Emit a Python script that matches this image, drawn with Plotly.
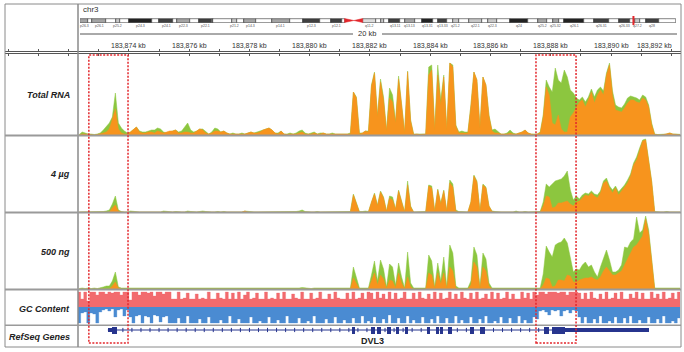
import numpy as np
import plotly.graph_objects as go

W, H = 684, 352

# ---------------- data ----------------
VIEW_KB = [183872.31, 183892.29]
GRID_START_KB = 183872.35
GRID_STEP_KB = 0.1

RULER_TICKS_KB = [183874, 183876, 183878, 183880, 183882, 183884, 183886, 183888, 183890, 183892]
RULER_LABELS = ["183,874 kb", "183,876 kb", "183,878 kb", "183,880 kb", "183,882 kb",
                "183,884 kb", "183,886 kb", "183,888 kb", "183,890 kb", "183,892 kb"]

CHROM = "chr3"
SCALE_LABEL = "20 kb"

TOTAL_GREEN = [
    0.5, 3, 2, 1, 1, 0.5, 1, 2, 5, 9,
    12, 18, 42, 12, 7, 4, 2, 3, 6, 8,
    4, 3, 3, 4, 5, 5, 7, 6, 3, 2,
    3, 4, 5, 3, 4, 8, 12, 5, 3, 4,
    6, 6, 3, 1, 3, 7, 6, 3, 4, 2,
    1, 2, 1, 1, 2, 1, 2, 3, 2, 3,
    4, 5, 6, 7, 5, 2, 2, 4, 1, 1,
    2, 1, 2, 4, 5, 2, 1, 2, 3, 1,
    2, 2, 1, 1, 2, 1, 1, 1, 1, 1,
    2, 43, 38, 2, 2, 4, 4, 50, 63, 20,
    56, 38, 5, 47, 40, 14, 59, 32, 3, 64,
    15, 1, 1, 1, 0.5, 1, 68, 70, 6, 70,
    35, 60, 6, 72, 70, 10, 3, 4, 3, 3,
    30, 63, 55, 8, 58, 50, 20, 5, 6, 3,
    1, 1, 2, 5, 2, 1, 2, 3, 5, 2,
    1, 1, 1, 3, 20, 55, 48, 43, 67, 55,
    52, 65, 58, 45, 42, 37, 35, 38, 33, 38,
    46, 38, 45, 48, 44, 62, 72, 44, 30, 28,
    27, 31, 37, 39, 38, 37, 35, 40, 38, 30,
    12, 1, 0.5, 0.5, 1, 1, 2, 1, 1, 0.5,
    0.5]
TOTAL_ORANGE = [
    0, 1, 1, 0.5, 0.5, 0, 0.5, 1, 2, 3,
    6, 16, 26, 6, 2, 1, 1, 3, 6, 8,
    3, 2, 2, 3, 3, 2, 4, 3, 2, 3,
    4, 4, 5, 2, 2, 3, 3, 2, 2, 4,
    6, 5, 2, 1, 2, 4, 4, 3, 4, 2,
    1, 1, 1, 1, 1, 1, 2, 3, 2, 2,
    3, 5, 6, 7, 5, 2, 1, 4, 1, 0.5,
    1, 1, 1, 2, 3, 1, 1, 1, 2, 1,
    1, 2, 1, 1, 1, 0.5, 1, 1, 1, 0.5,
    1, 43, 37, 1, 2, 4, 3, 49, 62, 18,
    53, 35, 4, 37, 33, 12, 56, 30, 2, 63,
    14, 0.5, 1, 0.5, 0.5, 1, 60, 65, 5, 60,
    30, 58, 5, 72, 68, 9, 2, 2, 2, 2,
    29, 63, 55, 7, 58, 50, 19, 4, 2, 2,
    1, 1, 1, 2, 1, 1, 2, 3, 5, 2,
    1, 0.5, 1, 2, 18, 48, 40, 12, 10, 20,
    6, 3, 3, 18, 22, 28, 33, 35, 28, 35,
    43, 32, 40, 45, 40, 60, 70, 40, 25, 24,
    23, 27, 32, 35, 35, 33, 32, 37, 35, 28,
    10, 0.5, 0, 0, 0.5, 1, 2, 1, 0.5, 0,
    0]

UG4_GREEN = [
    0, 0, 0, 0.5, 0, 0, 0, 0.5, 0.5, 1,
    2, 8, 16, 2, 0.5, 0, 0, 1, 0.5, 0,
    0, 0, 0, 0, 0, 0.5, 0, 0, 1, 0.5,
    0, 0, 0.5, 0, 0, 0, 1, 0.5, 0, 0,
    0.5, 1, 0.5, 0, 0, 0, 0.5, 0, 0.5, 0,
    0, 0, 0, 0.5, 0, 1, 0.5, 0, 0, 0,
    0, 0.5, 0, 0.5, 0.5, 0, 0, 0, 0, 0,
    0, 0, 0.5, 1, 2, 0.5, 0, 0, 0, 0.5,
    0, 0, 0, 0, 0.5, 0, 0, 0, 0, 0,
    0.5, 18, 9, 0.5, 0.5, 1, 0.5, 11, 19, 7,
    21, 15, 1, 16, 15, 3, 22, 11, 0.5, 31,
    6, 0, 0, 0, 0, 0.5, 27, 26, 1, 23,
    9, 22, 1, 32, 28, 2, 0.5, 0.5, 0, 0,
    10, 37, 31, 1, 28, 25, 6, 1, 0.5, 0,
    0, 0, 0, 0.5, 0, 1, 0, 0, 0.5, 0,
    0, 0, 0, 0.5, 10, 28, 25, 28, 31, 32,
    33, 36, 41, 22, 12, 16, 13, 17, 19, 18,
    21, 18, 17, 21, 31, 34, 26, 22, 26, 20,
    23, 27, 32, 38, 49, 55, 64, 72, 73, 53,
    31, 0.5, 0, 0, 0, 0.5, 0, 0, 0, 0,
    0]
UG4_ORANGE = [
    0, 0, 0, 0, 0, 0, 0, 0, 0, 0,
    0, 4, 7, 1, 0, 0, 0, 0, 0, 0,
    0, 0, 0, 0, 0, 0, 0, 0, 0, 0,
    0, 0, 0, 0, 0, 0, 0.5, 0, 0, 0,
    0, 0, 0, 0, 0, 0, 0, 0, 0, 0,
    0, 0, 0, 0, 0, 1, 0, 0, 0, 0,
    0, 0, 0, 0, 0, 0, 0, 0, 0, 0,
    0, 0, 0, 0, 0, 0, 0, 0, 0, 0,
    0, 0, 0, 0, 0, 0, 0, 0, 0, 0,
    0, 17, 8, 0, 0, 0, 0, 10, 18, 6,
    20, 14, 0.5, 14, 12, 3, 21, 10, 0, 27,
    5, 0, 0, 0, 0, 0, 26, 24, 0.5, 22,
    8, 21, 0.5, 29, 25, 1, 0, 0, 0, 0,
    10, 36, 30, 0.5, 27, 24, 6, 0.5, 0, 0,
    0, 0, 0, 0, 0, 0, 0.5, 0, 0, 0,
    0, 0, 0, 0, 6, 16, 15, 4, 5, 9,
    9, 10, 11, 8, 6, 10, 11, 14, 17, 16,
    19, 16, 14, 19, 29, 31, 24, 19, 24, 17,
    21, 24, 29, 36, 47, 52, 62, 71, 72, 52,
    30, 0, 0, 0, 0, 0, 0, 0, 0, 0,
    0]

NG500_GREEN = [
    0.5, 1, 0.5, 1, 0.5, 1, 0.5, 1, 2, 3,
    3, 8, 17, 2, 1, 1, 1, 0.5, 1, 1,
    1, 0.5, 1, 1, 0.5, 1, 1, 1, 0.5, 1,
    1, 1, 0.5, 1, 1, 1, 0.5, 1, 1, 1,
    1, 1, 1, 0.5, 1, 1, 1, 0.5, 1, 1,
    0.5, 1, 1, 1, 1, 1, 0.5, 0.5, 1, 1,
    1, 1, 1, 1, 0.5, 1, 1, 1, 1, 1,
    1, 1, 1, 1, 1.5, 1, 1, 0.5, 1, 1,
    1, 1, 0.5, 1, 1, 1, 1, 1, 0.5, 1,
    1, 22, 10, 1, 1, 1, 1, 14, 28, 8,
    29, 20, 2, 25, 22, 4, 26, 12, 1, 37,
    6, 1, 1, 0.5, 1, 1, 34, 28, 2, 26,
    8, 32, 2, 44, 36, 3, 1, 1, 1, 1,
    8, 42, 34, 2, 36, 30, 6, 1, 1, 1,
    1, 1, 1, 1, 1, 1, 1, 1, 1, 1,
    1, 1, 1, 1, 15, 43, 37, 32, 44, 46,
    47, 51, 46, 30, 17, 20, 19, 24, 27, 22,
    24, 17, 12, 22, 30, 39, 29, 17, 17, 19,
    24, 42, 41, 47, 50, 72, 56, 59, 73, 59,
    30, 1, 1, 1, 0.5, 1, 1, 1, 0.5, 1,
    1]
NG500_ORANGE = [
    0, 0, 0, 0, 0, 0, 0, 0, 0, 0,
    0, 3, 7, 1, 0, 0, 0, 0, 0, 0,
    0, 0, 0, 0, 0, 0, 0, 0, 0, 0,
    0, 0, 0, 0, 0, 0, 0, 0, 0, 0,
    0, 0, 0, 0, 0, 0, 0, 0, 0, 0,
    0, 0, 0, 0, 0, 0, 0, 0, 0, 0,
    0, 0, 0, 0, 0, 0, 0, 0, 0, 0,
    0, 0, 0, 0, 0, 0, 0, 0, 0, 0,
    0, 0, 0, 0, 0, 0, 0, 0, 0, 0,
    0, 11, 5, 0, 0, 0, 0, 8, 16, 4,
    14, 10, 0.5, 9, 8, 1, 16, 6, 0, 12,
    2, 0, 0, 0, 0, 0, 16, 14, 0.5, 16,
    5, 16, 0.5, 22, 18, 1, 0, 0, 0, 0,
    4, 27, 22, 0.5, 22, 18, 3, 0, 0, 0,
    0, 0, 0, 0, 0, 0, 0, 0, 0, 0,
    0, 0, 0, 0, 4, 11, 10, 2, 3, 9,
    9, 8, 14, 13, 7, 7, 9, 10, 11, 11,
    12, 10, 9, 12, 18, 22, 18, 14, 14, 16,
    18, 24, 30, 37, 42, 44, 48, 53, 70, 55,
    28, 0, 0, 0, 0, 0, 0, 0, 0, 0,
    0]

GC_HIGH = [
    15, 8, 15, 6, 15, 15, 12, 15, 15, 13, 15, 14, 15, 15, 12, 15, 15, 7, 15, 15,
    12, 15, 15, 14, 15, 11, 15, 15, 13, 15, 15,
    8, 8, 15, 8, 9, 14, 8, 8, 13, 8, 9, 8, 15, 8, 8, 14, 9, 8, 15, 8,
    14, 8, 15, 8, 12, 15, 8, 9, 14, 8,
    8, 15, 8, 9, 8, 14, 8, 15, 8, 8, 13, 9, 8, 15, 8, 8, 14, 8, 9, 15,
    8, 8, 13, 8, 15, 9, 8, 8, 14, 8,
    15, 8, 9, 14, 8, 15, 14, 8, 15, 9, 13, 8, 15, 8, 14, 8, 9, 15, 8, 8,
    14, 8, 15, 9, 8, 13, 8, 15, 8, 14,
    8, 9, 15, 8, 13, 8, 15, 9, 8, 14, 8, 15, 8, 9, 13, 8, 15, 8, 14, 8,
    9, 15, 8, 13, 8, 8, 15, 9, 14, 8, 15, 12,
    15, 15, 13, 15, 15, 15, 14, 15, 15, 12, 15, 15, 15, 14,
    8, 14, 8, 15, 9, 8, 13, 8, 15, 8, 9, 14, 8, 15, 8, 8, 13, 9, 15, 8,
    14, 8, 8, 15, 9, 13, 8, 15, 8, 9, 14, 8, 15, 8]
GC_LOW = [
    16, 6, 5, 16, 6, 7, 16, 5,
    3, 2, 4, 2, 10, 3, 2, 9, 3,
    10, 16, 9, 8, 16, 9, 10, 16, 8, 9, 15, 10, 9, 16,
    16, 16, 11, 16, 16, 9, 16, 16, 16, 12, 16, 16, 10, 16, 16, 16, 13, 16, 16, 9,
    16, 16, 12, 16, 16, 16, 10, 16, 16, 14,
    16, 16, 10, 16, 16, 13, 16, 16, 9, 16, 16, 16, 11, 16, 16, 14, 16, 9, 16, 16,
    16, 12, 16, 16, 10, 16, 16, 13, 16, 16,
    11, 16, 16, 9, 16, 14, 16, 10, 16, 16, 12, 16, 8, 16, 16, 11, 16, 16, 9, 16,
    13, 16, 16, 10, 16, 16, 12, 16, 9, 16,
    16, 11, 16, 16, 9, 16, 13, 16, 16, 10, 16, 16, 12, 16, 9, 16, 16, 14, 16, 10,
    16, 16, 11, 16, 16, 9, 16, 13, 16, 16, 10, 12,
    4, 3, 5, 8, 3, 4, 3, 9, 4, 3, 6, 3, 4, 10,
    16, 10, 16, 16, 12, 16, 9, 16, 16, 14, 16, 10, 16, 16, 11, 16, 9, 16, 16, 13,
    16, 16, 10, 16, 16, 12, 16, 9, 16, 16, 14, 16, 11, 16]

GENE_NAME = "DVL3"
GENE_SPAN_KB = [183873.30, 183891.26]
GENE_LABEL_KB = 183882.1
EXON_START_KB = [183873.44, 183881.40, 183882.03, 183882.23, 183882.56, 183882.86, 183883.16,
                 183883.89, 183884.19, 183884.32, 183884.59, 183885.32, 183885.65,
                 183887.78, 183888.04]
EXON_END_KB = [183873.60, 183881.50, 183882.17, 183882.37, 183882.70, 183882.96, 183883.26,
               183883.99, 183884.29, 183884.42, 183884.72, 183885.45, 183885.82,
               183887.94, 183888.47]
UTR_START_KB = [183873.30, 183888.47]
UTR_END_KB = [183873.44, 183891.26]

HIGHLIGHT_START_KB = [183872.67, 183887.51]
HIGHLIGHT_END_KB = [183873.97, 183888.84]

CHR_LEN_MB = 198.022
CYTO_NAMES = ["p26.3", "p26.2", "p26.1", "p25.3", "p25.2", "p25.1", "p24.3", "p24.2", "p24.1", "p23",
              "p22.3", "p22.2", "p22.1", "p21.33", "p21.32", "p21.31", "p21.2", "p21.1", "p14.3", "p14.2",
              "p14.1", "p13", "p12.3", "p12.2", "p12.1", "p11.2", "p11.1", "q11.1", "q11.2", "q12.1",
              "q12.2", "q12.3", "q13.11", "q13.12", "q13.13", "q13.2", "q13.31", "q13.32", "q13.33", "q21.1",
              "q21.2", "q21.3", "q22.1", "q22.2", "q22.3", "q23", "q24", "q25.1", "q25.2", "q25.31",
              "q25.32", "q25.33", "q26.1", "q26.2", "q26.31", "q26.32", "q26.33", "q27.1", "q27.2", "q27.3",
              "q28", "q29"]
CYTO_START_MB = [0.0, 2.8, 4.0, 8.7, 11.8, 13.3, 16.4, 23.9, 26.4, 30.9,
                 32.1, 36.5, 39.4, 43.7, 44.1, 44.2, 50.6, 52.3, 54.4, 58.6,
                 63.7, 69.8, 74.2, 79.8, 83.5, 87.2, 87.9, 91.0, 93.9, 98.3,
                 100.0, 100.9, 102.8, 106.2, 107.9, 111.3, 113.5, 117.3, 119.0, 121.9,
                 123.8, 125.8, 129.2, 133.7, 135.7, 138.7, 142.8, 148.9, 152.1, 155.0,
                 157.0, 159.0, 160.7, 167.6, 170.9, 175.7, 179.0, 182.7, 184.5, 186.0,
                 187.9, 192.3]
CYTO_END_MB = CYTO_START_MB[1:] + [CHR_LEN_MB]
CYTO_STAIN = ["gpos50", "gneg", "gpos50", "gneg", "gpos25", "gneg", "gpos100", "gneg", "gpos75", "gneg",
              "gpos50", "gneg", "gpos75", "gneg", "gpos50", "gneg", "gpos25", "gneg", "gpos50", "gneg",
              "gpos50", "gneg", "gpos75", "gneg", "gpos75", "gneg", "acen", "acen", "gvar", "gneg",
              "gpos25", "gneg", "gpos75", "gneg", "gpos50", "gneg", "gpos100", "gneg", "gpos75", "gneg",
              "gpos25", "gneg", "gpos25", "gneg", "gpos25", "gneg", "gpos100", "gneg", "gpos50", "gneg",
              "gpos50", "gneg", "gpos100", "gneg", "gpos75", "gneg", "gpos75", "gneg", "gpos25", "gneg",
              "gpos75", "gneg"]

TRACK_LABELS = ["Total RNA", "4 µg", "500 ng", "GC Content", "RefSeq Genes"]

for arr in (TOTAL_GREEN, TOTAL_ORANGE, UG4_GREEN, UG4_ORANGE, NG500_GREEN, NG500_ORANGE, GC_HIGH, GC_LOW):
    assert len(arr) == 201, len(arr)

# ---------------- style ----------------
GREEN = "#8cc63f"
ORANGE = "#f7941d"
GCRED = "#f26b6e"
GCBLUE = "#4a8bd2"
NAVY = "#27358e"
BOXRED = "#e3262b"
SEP = "#9a9a9a"
FONT = "Liberation Sans, Arial, sans-serif"
STAIN_COLORS = {"gneg": "#ffffff", "gpos25": "#c8c8c8", "gpos50": "#a4a4a4",
                "gpos75": "#404040", "gpos100": "#222222", "gvar": "#dcdcdc"}


def pxx(p):
    return p / W


def pyy(p):
    return 1 - p / H


grid = GRID_START_KB + GRID_STEP_KB * np.arange(201)
gc_grid = grid - GRID_STEP_KB / 2

fig = go.Figure()


def add_cov(vals, color, yax):
    fig.add_trace(go.Scatter(x=grid, y=vals, mode="lines",
                             line=dict(color=color, width=0.5, shape="linear"),
                             fill="tozeroy", fillcolor=color,
                             xaxis="x", yaxis=yax, hoverinfo="skip", showlegend=False))


add_cov(TOTAL_GREEN, GREEN, "y")
add_cov(TOTAL_ORANGE, ORANGE, "y")
add_cov(UG4_GREEN, GREEN, "y2")
add_cov(UG4_ORANGE, ORANGE, "y2")
add_cov(NG500_GREEN, GREEN, "y3")
add_cov(NG500_ORANGE, ORANGE, "y3")

# GC content
fig.add_trace(go.Scatter(x=gc_grid, y=GC_HIGH, mode="lines", line=dict(color=GCRED, width=0.3, shape="hv"),
                         fill="tozeroy", fillcolor=GCRED, xaxis="x", yaxis="y4",
                         hoverinfo="skip", showlegend=False))
fig.add_trace(go.Scatter(x=gc_grid, y=[-v for v in GC_LOW], mode="lines",
                         line=dict(color=GCBLUE, width=0.3, shape="hv"),
                         fill="tozeroy", fillcolor=GCBLUE, xaxis="x", yaxis="y4",
                         hoverinfo="skip", showlegend=False))

# Gene model
GENE_Y = 16
fig.add_trace(go.Scatter(x=GENE_SPAN_KB, y=[GENE_Y, GENE_Y], mode="lines",
                         line=dict(color=NAVY, width=1), xaxis="x", yaxis="y5",
                         hoverinfo="skip", showlegend=False))
blocks = list(zip(EXON_START_KB, EXON_END_KB)) + list(zip(UTR_START_KB, UTR_END_KB))
chev = [p for p in np.arange(GENE_SPAN_KB[0] + 0.2, GENE_SPAN_KB[1], 0.3)
        if not any(s - 0.05 <= p <= e + 0.05 for s, e in blocks)]
fig.add_trace(go.Scatter(x=chev, y=[GENE_Y] * len(chev), mode="markers",
                         marker=dict(symbol="line-ns", size=3, line=dict(color=NAVY, width=1)),
                         xaxis="x", yaxis="y5", hoverinfo="skip", showlegend=False))
fig.add_trace(go.Bar(x=[e - s for s, e in zip(UTR_START_KB, UTR_END_KB)], base=UTR_START_KB,
                     y=[GENE_Y] * len(UTR_START_KB), orientation="h", width=4,
                     marker=dict(color=NAVY, line=dict(width=0)), xaxis="x", yaxis="y5",
                     hoverinfo="skip", showlegend=False))
fig.add_trace(go.Bar(x=[e - s for s, e in zip(EXON_START_KB, EXON_END_KB)], base=EXON_START_KB,
                     y=[GENE_Y] * len(EXON_START_KB), orientation="h", width=7,
                     marker=dict(color=NAVY, line=dict(width=0)), xaxis="x", yaxis="y5",
                     hoverinfo="skip", showlegend=False))

# Ideogram
ib = [i for i, s in enumerate(CYTO_STAIN) if s != "acen"]
fig.add_trace(go.Bar(x=[CYTO_END_MB[i] - CYTO_START_MB[i] for i in ib],
                     base=[CYTO_START_MB[i] for i in ib], y=[0] * len(ib), orientation="h", width=0.8,
                     marker=dict(color=[STAIN_COLORS[CYTO_STAIN[i]] for i in ib],
                                 line=dict(color="#333333", width=0.6)),
                     xaxis="x2", yaxis="y6", hoverinfo="skip", showlegend=False))
for i, s in enumerate(CYTO_STAIN):
    if s != "acen":
        continue
    a, b = CYTO_START_MB[i], CYTO_END_MB[i]
    if CYTO_NAMES[i].startswith("p"):
        xs = [a, b, a, a]
    else:
        xs = [b, a, b, b]
    fig.add_trace(go.Scatter(x=xs, y=[0.4, 0, -0.4, 0.4], mode="lines", fill="toself",
                             fillcolor=BOXRED, line=dict(color=BOXRED, width=0.5),
                             xaxis="x2", yaxis="y6", hoverinfo="skip", showlegend=False))

# ruler anchor trace (invisible)
fig.add_trace(go.Scatter(x=[VIEW_KB[0]], y=[0], mode="markers", marker=dict(opacity=0),
                         xaxis="x3", yaxis="y7", hoverinfo="skip", showlegend=False))

kpp = (VIEW_KB[1] - VIEW_KB[0]) / (680 - 78)
hidden = dict(visible=False, showgrid=False, zeroline=False, fixedrange=True)

fig.update_layout(
    width=W, height=H, margin=dict(l=0, r=0, t=0, b=0),
    paper_bgcolor="white", plot_bgcolor="rgba(0,0,0,0)",
    showlegend=False, barmode="overlay", bargap=0,
    font=dict(family=FONT),
    xaxis=dict(domain=[pxx(78), pxx(680)], range=VIEW_KB, anchor="y", **hidden),
    yaxis=dict(domain=[pyy(135), pyy(55)], range=[0, 80], anchor="x", **hidden),
    yaxis2=dict(domain=[pyy(212), pyy(136)], range=[0, 76], anchor="x", **hidden),
    yaxis3=dict(domain=[pyy(289), pyy(213)], range=[0, 76], anchor="x", **hidden),
    yaxis4=dict(domain=[pyy(324), pyy(291)], range=[-17, 16], anchor="x", **hidden),
    yaxis5=dict(domain=[pyy(346), pyy(326)], range=[0, 20], anchor="x", **hidden),
    xaxis2=dict(domain=[pxx(80), pxx(676)], range=[0, CHR_LEN_MB], anchor="y6", **hidden),
    yaxis6=dict(domain=[pyy(23), pyy(18)], range=[-0.5, 0.5], anchor="x2", **hidden),
    xaxis3=dict(domain=[pxx(5), pxx(681)],
                range=[VIEW_KB[0] - (78 - 5) * kpp, VIEW_KB[1] + (681 - 680) * kpp],
                anchor="y7", visible=True, showgrid=False, zeroline=False, fixedrange=True,
                showline=True, linecolor="#555555", linewidth=1, mirror="ticks",
                ticks="outside", ticklen=2, tickwidth=1, tickcolor="#555555",
                tickmode="linear", tick0=RULER_TICKS_KB[0], dtick=1, showticklabels=False),
    yaxis7=dict(domain=[pyy(53), pyy(52)], range=[-1, 1], anchor="x3", **hidden),
)

shapes = []
shapes.append(dict(type="rect", xref="paper", yref="paper", x0=pxx(5), x1=pxx(681), y0=pyy(347), y1=pyy(4),
                   line=dict(color="#8a8a8a", width=1), layer="above"))
shapes.append(dict(type="line", xref="paper", yref="paper", x0=pxx(78), x1=pxx(78), y0=pyy(347), y1=pyy(4),
                   line=dict(color="#8a8a8a", width=1.5), layer="above"))
for yy, wd in ((135.5, 2), (212.5, 2), (289.5, 2), (325.2, 1.5)):
    shapes.append(dict(type="line", xref="paper", yref="paper", x0=pxx(5), x1=pxx(681), y0=pyy(yy), y1=pyy(yy),
                       line=dict(color=SEP, width=wd), layer="above"))
shapes.append(dict(type="line", xref="paper", yref="paper", x0=pxx(80), x1=pxx(353), y0=pyy(34), y1=pyy(34),
                   line=dict(color="#555555", width=1), layer="above"))
shapes.append(dict(type="line", xref="paper", yref="paper", x0=pxx(382), x1=pxx(677), y0=pyy(34), y1=pyy(34),
                   line=dict(color="#555555", width=1), layer="above"))
vm = (VIEW_KB[0] + VIEW_KB[1]) / 2 / 1000.0
shapes.append(dict(type="line", xref="x2", yref="paper", x0=vm, x1=vm, y0=pyy(25), y1=pyy(16),
                   line=dict(color=BOXRED, width=2), layer="above"))
for s, e in zip(HIGHLIGHT_START_KB, HIGHLIGHT_END_KB):
    shapes.append(dict(type="rect", xref="x", yref="paper", x0=s, x1=e, y0=pyy(343), y1=pyy(55),
                       line=dict(color=BOXRED, width=1.5, dash="2px,1.5px"), layer="above"))
fig.update_layout(shapes=shapes)

ann = []
ann.append(dict(text=CHROM, xref="paper", yref="paper", x=pxx(81), y=pyy(9.5), xanchor="left",
                yanchor="middle", showarrow=False, font=dict(size=8, color="#333333")))
ann.append(dict(text=SCALE_LABEL, xref="paper", yref="paper", x=pxx(367), y=pyy(33.5), xanchor="center",
                yanchor="middle", showarrow=False, font=dict(size=7.5, color="#333333")))
for k, (t, lab) in enumerate(zip(RULER_TICKS_KB, RULER_LABELS)):
    last = k == len(RULER_TICKS_KB) - 1
    ann.append(dict(text=lab, xref="x", yref="paper", x=t, y=pyy(46), xanchor="right" if last else "center",
                    xshift=3 if last else 0, yanchor="middle", showarrow=False,
                    font=dict(size=7, color="#333333")))
for i, s in enumerate(CYTO_STAIN):
    if s in ("gneg", "acen") or CYTO_END_MB[i] - CYTO_START_MB[i] < 1.0:
        continue
    ann.append(dict(text=CYTO_NAMES[i], xref="x2", yref="paper", x=(CYTO_START_MB[i] + CYTO_END_MB[i]) / 2,
                    y=pyy(25.5), xanchor="center", yanchor="middle", showarrow=False,
                    font=dict(size=3.5, color="#555555")))
for lab, yy in zip(TRACK_LABELS, [95, 174, 252, 308.5, 336.5]):
    ann.append(dict(text="<b><i>%s</i></b>" % lab, xref="paper", yref="paper", x=pxx(72), y=pyy(yy),
                    xanchor="right", yanchor="middle", showarrow=False,
                    font=dict(size=9, color="#222222")))
ann.append(dict(text="<b>%s</b>" % GENE_NAME, xref="x", yref="y5", x=GENE_LABEL_KB, y=5, xanchor="center",
                yanchor="middle", showarrow=False, font=dict(size=9, color="#222222")))
fig.update_layout(annotations=ann)

fig.write_html("out.html")
